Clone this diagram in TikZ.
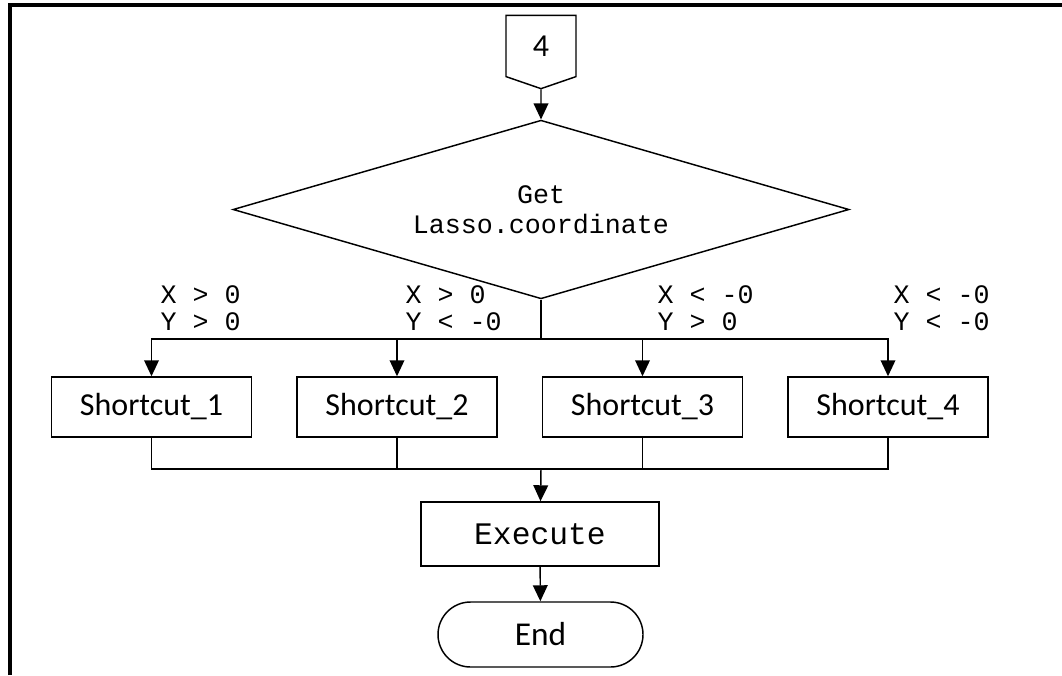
\documentclass[tikz,border=0pt]{standalone}
\usepackage{fontspec}
\setmainfont{Carlito}
\newfontfamily\codefont{Liberation Mono}
\usetikzlibrary{positioning,arrows.meta,shapes.geometric,shapes.misc,shapes.symbols}

\begin{document}
\begin{tikzpicture}[x=0.75pt, y=-0.75pt, line width=1.1pt,
                    >={Triangle[length=12pt,width=11pt]}]
\tikzstyle{every node}=[inner sep=0pt]
\tikzstyle{shortcut}=[rectangle, draw, minimum width=150pt, minimum height=45pt,
                      font=\fontsize{24}{28}\selectfont]
\tikzstyle{cond}=[font=\codefont\fontsize{20}{20.5}\selectfont, align=left]
\tikzstyle{decision}=[diamond, draw, aspect=3.44, minimum width=462pt,
                      minimum height=134pt, align=center,
                      font=\codefont\fontsize{20}{22.5}\selectfont]
\tikzstyle{offpage}=[signal, signal to=south, signal pointer angle=142, draw,
                     minimum width=52.5pt, minimum height=48pt,
                     font=\fontsize{24}{28}\selectfont]
\tikzstyle{terminal}=[rounded rectangle, draw, minimum width=153.75pt,
                      minimum height=48.75pt, font=\fontsize{25}{28}\selectfont]
\useasboundingbox (0,0) rectangle (1062,675);
% page frame (open at right and bottom)
\draw[line width=2.8pt] (10,675) -- (10,5) -- (1062,5);

\node[offpage] (conn) at (541,46) {4};
\node[decision] (dec) at (541,209.5) {Get\\Lasso.coordinate};

\node[shortcut] (s1) at (151.5,407) {Shortcut\_1};
\node[shortcut] (s2) at (397,407) {Shortcut\_2};
\node[shortcut] (s3) at (642.5,407) {Shortcut\_3};
\node[shortcut] (s4) at (888,407) {Shortcut\_4};

\node[cond, anchor=west] (c1) at (160,308.5) {X > 0\\Y > 0};
\node[cond, anchor=west] (c2) at (405,308.5) {X > 0\\Y < -0};
\node[cond, anchor=west] (c3) at (657,308.5) {X < -0\\Y > 0};
\node[cond, anchor=west] (c4) at (893,308.5) {X < -0\\Y < -0};

\node[shortcut, minimum width=178.5pt, minimum height=48pt,
      font=\codefont\fontsize{23.5}{28}\selectfont] (exec) at (540,534) {Execute};
\node[terminal] (end) at (540.5,634.5) {End};

\coordinate (split) at (541,339);
\coordinate (join) at (541,469);

\draw[->] (conn) -- (dec);
\draw (dec.south) -- (split);
\foreach \s in {s1,s2,s3,s4}
  \draw[->] (split) -| (\s);
\foreach \s in {s1,s2,s3,s4}
  \draw (\s) |- (join);
\draw[->] (join) -- (exec);
\draw[->] (exec) -- (end);
\end{tikzpicture}
\end{document}
